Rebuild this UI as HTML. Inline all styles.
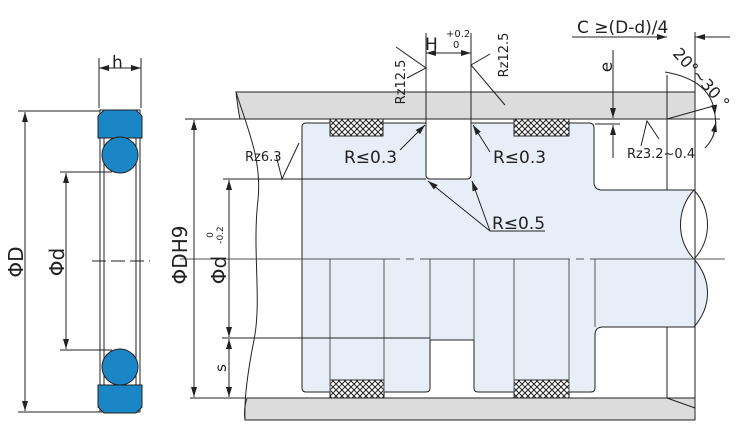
<!DOCTYPE html>
<html><head><meta charset="utf-8"><style>
html,body{margin:0;padding:0;background:#fff}
svg{display:block}
text{font-family:"DejaVu Sans","Liberation Sans",sans-serif;fill:#222}
</style></head><body>
<svg width="749" height="441" viewBox="0 0 749 441" xmlns="http://www.w3.org/2000/svg">
<defs>
<pattern id="hx" width="6" height="6" patternUnits="userSpaceOnUse">
<rect width="6" height="6" fill="#fff"/>
<path d="M0,0L6,6M6,0L0,6" stroke="#222" stroke-width="1"/>
</pattern>
<marker id="a" viewBox="0 0 10 6" refX="10" refY="3" markerWidth="10" markerHeight="6" orient="auto-start-reverse" markerUnits="userSpaceOnUse">
<path d="M0,0L10,3L0,6z" fill="#222"/>
</marker>
</defs>
<g stroke="#222" stroke-width="1" fill="none">
<!-- LEFT RING -->
<line x1="99" y1="58" x2="99" y2="108"/>
<line x1="141" y1="58" x2="141" y2="108"/>
<line x1="99" y1="68" x2="141" y2="68" marker-start="url(#a)" marker-end="url(#a)"/>
<line x1="18" y1="111" x2="100" y2="111"/>
<line x1="18" y1="412" x2="100" y2="412"/>
<line x1="25" y1="112" x2="25" y2="411" marker-start="url(#a)" marker-end="url(#a)"/>
<line x1="60" y1="172" x2="112" y2="172"/>
<line x1="60" y1="350" x2="112" y2="350"/>
<line x1="66" y1="173" x2="66" y2="349" marker-start="url(#a)" marker-end="url(#a)"/>
<rect x="100" y="110" width="40" height="302"/>
<line x1="104" y1="128" x2="104" y2="392"/>
<line x1="136" y1="128" x2="136" y2="392"/>
<path d="M104,110H136L142,116V138H98V116Z" fill="#1a86c6"/>
<path d="M98,385H142V407L136,413H104L98,407Z" fill="#1a86c6"/>
<circle cx="120" cy="155" r="18" fill="#1a86c6"/>
<circle cx="120" cy="367" r="18" fill="#1a86c6"/>
<line x1="92" y1="261" x2="150" y2="261" stroke-dasharray="14,5"/>

<!-- housing bars -->
<path d="M236,92H695V119H240C238,110 237,100 236,92Z" fill="#dcdcdc"/>
<path d="M247,398H695V420H245C244,412 245,404 247,398Z" fill="#dcdcdc"/>
<!-- piston -->
<path d="M306,123H426V175Q426,179 430,179H467Q471,179 471,175V123H589Q594,123 594,128V182Q594,190 602,190H694C676,210 676,240 694,259C712,280 712,306 694,327H603Q595,327 595,335V388Q595,392 591,392H478Q474,392 474,388V340H430V388Q430,392 426,392H306Q302,392 302,388V127Q302,123 306,123Z" fill="#e8eef8"/>
<path d="M694,190C712,210 712,240 694,259"/>
<!-- hatched seals -->
<rect x="330" y="119" width="53" height="17" fill="url(#hx)"/>
<rect x="514" y="119" width="55" height="17" fill="url(#hx)"/>
<rect x="330" y="380" width="54" height="18" fill="url(#hx)"/>
<rect x="514" y="380" width="55" height="18" fill="url(#hx)"/>
<!-- vertical lines lower -->
<g stroke="#555">
<line x1="330" y1="259" x2="330" y2="392"/>
<line x1="384" y1="259" x2="384" y2="392"/>
<line x1="430" y1="259" x2="430" y2="340"/>
<line x1="474" y1="259" x2="474" y2="340"/>
<line x1="514" y1="259" x2="514" y2="392"/>
<line x1="569" y1="259" x2="569" y2="392"/>
<line x1="595" y1="259" x2="595" y2="327"/>
</g>
<!-- wavy left -->
<path d="M236,92C248,130 262,160 258,200C252,250 262,300 254,340C248,370 244,400 245,420"/>
<!-- right end -->
<line x1="695" y1="32" x2="695" y2="420"/>
<line x1="667" y1="75" x2="667" y2="190"/>
<line x1="667" y1="327" x2="667" y2="398"/>
<line x1="667" y1="398" x2="695" y2="408"/>
<line x1="667" y1="119" x2="717" y2="105"/>
<!-- extension lines -->
<line x1="185" y1="119" x2="246" y2="119"/>
<line x1="676" y1="119" x2="720" y2="119"/>
<line x1="190" y1="398" x2="246" y2="398"/>
<line x1="223" y1="179" x2="426" y2="179"/>
<line x1="222" y1="338" x2="430" y2="338"/>
<line x1="180" y1="259" x2="725" y2="259" stroke="#555" stroke-dasharray="220,6,8,6,150,6,8,6,200"/>
<!-- left dims -->
<line x1="194" y1="120" x2="194" y2="397" marker-start="url(#a)" marker-end="url(#a)"/>
<line x1="229" y1="180" x2="229" y2="337" marker-start="url(#a)" marker-end="url(#a)"/>
<line x1="229" y1="339" x2="229" y2="397" marker-start="url(#a)" marker-end="url(#a)"/>
<!-- H dim -->
<line x1="426" y1="33" x2="426" y2="123"/>
<line x1="471" y1="33" x2="471" y2="123"/>
<line x1="426" y1="53" x2="471" y2="53" marker-start="url(#a)" marker-end="url(#a)"/>
<path d="M396,47L426,68L407,78"/>
<path d="M505,105L471,65L490,54"/>
<!-- C dim -->
<line x1="572" y1="37" x2="667" y2="37" marker-end="url(#a)"/>
<line x1="730" y1="37" x2="695" y2="37" marker-end="url(#a)"/>
<!-- e dim -->
<line x1="613" y1="50" x2="613" y2="118" marker-end="url(#a)"/>
<line x1="613" y1="158" x2="613" y2="125" marker-end="url(#a)"/>
<line x1="595" y1="124" x2="620" y2="124"/>
<!-- angle arc -->
<path d="M665,72Q712,80 715,115" marker-end="url(#a)"/>
<path d="M715,115Q718,135 705,148"/>
<path d="M713,137L716,122" marker-end="url(#a)"/>
<!-- surface symbols -->
<path d="M641,146L647,121L659,139"/>
<path d="M276,155L282,179L299,143"/>
<!-- leaders -->
<line x1="400" y1="150" x2="425" y2="125" marker-end="url(#a)"/>
<line x1="490" y1="152" x2="473" y2="125" marker-end="url(#a)"/>
<line x1="490" y1="231" x2="428" y2="181" marker-end="url(#a)"/>
<line x1="490" y1="231" x2="472" y2="181" marker-end="url(#a)"/>
<line x1="490" y1="231" x2="545" y2="231"/>
</g>
<!-- text -->
<text x="112" y="68" font-size="17">h</text>
<text transform="translate(23,262) rotate(-90)" font-size="20" text-anchor="middle">ΦD</text>
<text transform="translate(64,262) rotate(-90)" font-size="20" text-anchor="middle">Φd</text>
<text transform="translate(187,255) rotate(-90)" font-size="20" text-anchor="middle">ΦDH9</text>
<text transform="translate(226,270) rotate(-90)" font-size="20" text-anchor="middle">Φd</text>
<text transform="translate(213,235) rotate(-90)" font-size="9" text-anchor="middle">0</text>
<text transform="translate(223,235) rotate(-90)" font-size="9" text-anchor="middle">-0.2</text>
<text transform="translate(226,368) rotate(-90)" font-size="15" text-anchor="middle">s</text>
<text x="245" y="161" font-size="13">Rz6.3</text>
<text x="344" y="163" font-size="17">R≤0.3</text>
<text x="493" y="163" font-size="17">R≤0.3</text>
<text x="492" y="229" font-size="17">R≤0.5</text>
<text x="425" y="50" font-size="17">H</text>
<text x="446" y="37" font-size="10">+0.2</text>
<text x="453" y="48" font-size="10">0</text>
<text transform="translate(405,82) rotate(-90)" font-size="13" text-anchor="middle">Rz12.5</text>
<text transform="translate(508,55) rotate(-90)" font-size="13" text-anchor="middle">Rz12.5</text>
<text x="577" y="33" font-size="17">C ≥(D-d)/4</text>
<text transform="translate(612,67) rotate(-90)" font-size="17" text-anchor="middle">e</text>
<text transform="translate(672,54) rotate(48)" font-size="16">20°~30 °</text>
<text x="627" y="158" font-size="13">Rz3.2~0.4</text>
</svg>
</body></html>
